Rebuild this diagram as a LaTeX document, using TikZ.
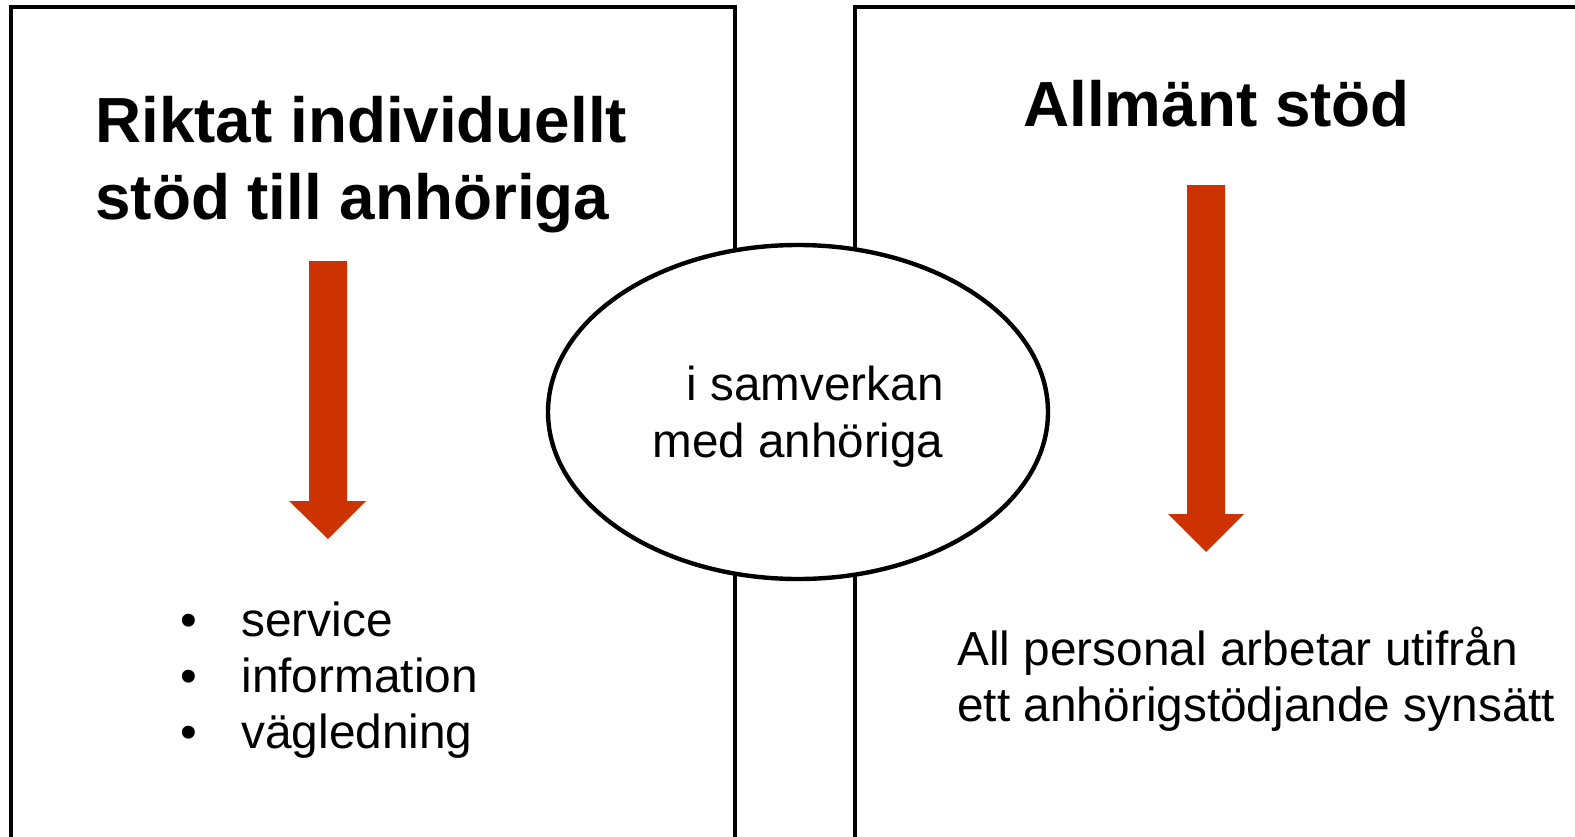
\documentclass[tikz,border=0pt]{standalone}
\usepackage{fontspec}
\setmainfont{Liberation Sans}
\usetikzlibrary{shapes.geometric}
\definecolor{pilrod}{RGB}{204,51,0}
\newcommand{\punkt}{\makebox[30.5pt][l]{\textbullet}}
\tikzset{
  ram/.style={line width=2.2pt},
  pil/.style={fill=pilrod, draw=none},
  rubrik/.style={font=\bfseries\fontsize{31.9}{38.5}\selectfont, align=left, inner sep=0pt},
  brodtext/.style={font=\fontsize{23.9}{28}\selectfont, align=left, inner sep=0pt}
}
\begin{document}
\begin{tikzpicture}[x=0.5pt, y=-0.5pt]
    \useasboundingbox (0,0) rectangle (1575,836);
    % Frames
    \draw[ram] (11,850) -- (11,7) -- (735,7) -- (735,850);
    \draw[ram] (855,850) -- (855,7) -- (1590,7);

    % Headings
    \node[rubrik, anchor=base west] (riktat) at (95,219) {Riktat individuellt\\stöd till anhöriga};
    \node[rubrik, anchor=base west] (allmant) at (1023,126) {Allmänt stöd};

    % Arrows
    \fill[pil] (309,261) -- (347,261) -- (347,501) -- (366,501) -- (328,539) -- (289,501) -- (309,501) -- cycle;
    \fill[pil] (1187,185) -- (1225,185) -- (1225,514) -- (1244,514) -- (1206,552) -- (1168,514) -- (1187,514) -- cycle;

    % Ellipse
    \node[draw, ellipse, fill=white, line width=2.2pt, minimum width=250pt, minimum height=167pt,
          inner sep=0pt, text depth=0pt, align=right, font=\fontsize{23.8}{28.5}\selectfont] (samverkan) at (798,412) {i samverkan\\med anhöriga};

    % Texts
    \node[brodtext, anchor=base west] (lista) at (180,748) {\punkt service\\\punkt information\\\punkt vägledning};
    \node[brodtext, anchor=base west] (synsatt) at (957,721) {All personal arbetar utifrån\\ett anhörigstödjande synsätt};
\end{tikzpicture}
\end{document}
